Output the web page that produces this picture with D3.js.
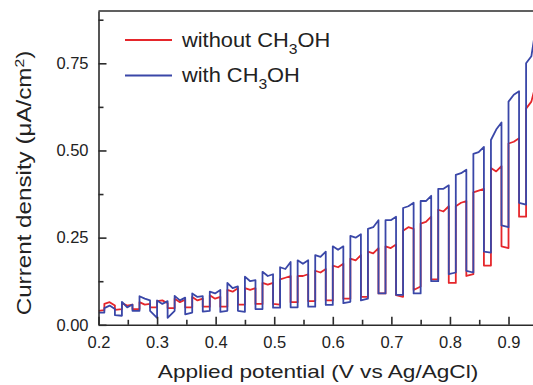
<!DOCTYPE html>
<html>
<head>
<meta charset="utf-8">
<script src="https://cdn.jsdelivr.net/npm/d3@7"></script>
<style>
  body { margin: 0; background: #fff; }
  svg { display: block; font-family: "Liberation Sans", Arial, sans-serif; }
  .axis path, .axis line { stroke: #2b2b2b; stroke-width: 1.6; }
  .axis text { font-size: 16.5px; fill: #222; }
</style>
</head>
<body>
<div id="chart"></div>
<script>
// chopped-light sweep: potentials where the lamp goes on / off (V vs Ag/AgCl)
const lightOn  = [0.21, 0.24, 0.27, 0.30, 0.33, 0.36, 0.39, 0.42, 0.45, 0.48, 0.51, 0.54, 0.57,
                  0.60, 0.63, 0.66, 0.69, 0.72, 0.75, 0.78, 0.81, 0.84, 0.87, 0.90, 0.93];
const lightMid = [0.219, 0.249, 0.279, 0.309, 0.339, 0.369, 0.399, 0.429, 0.459, 0.489, 0.519, 0.549, 0.579,
                  0.609, 0.639, 0.669, 0.699, 0.729, 0.759, 0.789, 0.819, 0.849, 0.879, 0.909, 0.939];
const lightOff = [0.228, 0.258, 0.288, 0.318, 0.348, 0.378, 0.408, 0.438, 0.468, 0.498, 0.528, 0.558, 0.588,
                  0.618, 0.648, 0.678, 0.708, 0.738, 0.768, 0.798, 0.828, 0.858, 0.888, 0.918, 0.945];

// without CH3OH (uA/cm2)
const redStart      = 0.04;
const redDarkEnd    = [0.042, 0.045, 0.045, 0.05, 0.048, 0.05, 0.052, 0.052, 0.058, 0.06, 0.058, 0.065, 0.068,
                       0.07, 0.075, 0.08, 0.09, 0.08, 0.11, 0.13, 0.12, 0.145, 0.17, 0.22, 0.31];
const redLightStart = [0.06, 0.062, 0.065, 0.068, 0.075, 0.08, 0.085, 0.1, 0.105, 0.12, 0.13, 0.14, 0.155,
                       0.17, 0.19, 0.21, 0.225, 0.27, 0.29, 0.33, 0.34, 0.38, 0.45, 0.52, 0.62];
const redLightMid   = [0.065, 0.055, 0.058, 0.07, 0.065, 0.07, 0.075, 0.095, 0.1, 0.115, 0.135, 0.14, 0.15,
                       0.165, 0.185, 0.205, 0.22, 0.28, 0.295, 0.325, 0.35, 0.385, 0.44, 0.525, 0.64];
const redLightEnd   = [0.055, 0.058, 0.06, 0.062, 0.072, 0.075, 0.08, 0.105, 0.105, 0.12, 0.14, 0.145, 0.16,
                       0.175, 0.2, 0.22, 0.23, 0.275, 0.31, 0.34, 0.355, 0.39, 0.455, 0.535, 0.68];
const redDarkMin    = [0.043, 0.045, 0.05, 0.048, 0.05, 0.052, 0.052, 0.058, 0.06, 0.06, 0.065, 0.068, 0.07,
                       0.075, 0.08, 0.09, 0.085, 0.1, 0.13, 0.12, 0.14, 0.17, 0.225, 0.31, null];

// with CH3OH (uA/cm2)
const blueStart      = 0.035;
const blueDarkEnd    = [0.035, 0.026, 0.04, 0.02, 0.04, 0.035, 0.04, 0.04, 0.037, 0.045, 0.049, 0.05, 0.052,
                        0.057, 0.066, 0.075, 0.09, 0.086, 0.09, 0.125, 0.15, 0.15, 0.207, 0.28, 0.345];
const blueLightStart = [0.048, 0.066, 0.082, 0.07, 0.083, 0.09, 0.095, 0.12, 0.138, 0.152, 0.165, 0.185, 0.2,
                        0.225, 0.255, 0.275, 0.3, 0.335, 0.355, 0.39, 0.43, 0.49, 0.53, 0.64, 0.75];
const blueLightMid   = [0.055, 0.05, 0.075, 0.06, 0.07, 0.08, 0.09, 0.105, 0.125, 0.14, 0.16, 0.175, 0.195,
                        0.215, 0.25, 0.28, 0.3, 0.34, 0.355, 0.39, 0.435, 0.495, 0.56, 0.66, 0.77];
const blueLightEnd   = [0.045, 0.058, 0.07, 0.068, 0.078, 0.082, 0.1, 0.11, 0.128, 0.145, 0.18, 0.185, 0.21,
                        0.225, 0.26, 0.3, 0.31, 0.35, 0.37, 0.4, 0.445, 0.51, 0.58, 0.67, 0.835];
const blueDarkMin    = [0.028, 0.04, 0.04, 0.02, 0.03, 0.038, 0.037, 0.04, 0.045, 0.049, 0.05, 0.052, 0.057,
                        0.062, 0.07, 0.09, 0.086, 0.09, 0.125, 0.145, 0.155, 0.21, 0.285, 0.35, null];

const xMajor = [0.2, 0.3, 0.4, 0.5, 0.6, 0.7, 0.8, 0.9];
const xMinor = [0.25, 0.35, 0.45, 0.55, 0.65, 0.75, 0.85];
const yMajor = [0, 0.25, 0.5, 0.75];
const yMinor = [0.125, 0.375, 0.625, 0.875];

const series = [
  { name: "without", color: "#e5262b", start: redStart, dEnd: redDarkEnd, lStart: redLightStart,
    lMid: redLightMid, lEnd: redLightEnd, dMin: redDarkMin },
  { name: "with", color: "#3a47a8", start: blueStart, dEnd: blueDarkEnd, lStart: blueLightStart,
    lMid: blueLightMid, lEnd: blueLightEnd, dMin: blueDarkMin }
];

// walk the sweep cycle by cycle: dark -> light on -> plateau -> light off
function sweep(s) {
  let pts = [[0.2, s.start]];
  lightOn.forEach((v, i) => {
    pts.push([v, s.dEnd[i]], [v, s.lStart[i]], [lightMid[i], s.lMid[i]], [lightOff[i], s.lEnd[i]]);
    if (s.dMin[i] != null) pts.push([lightOff[i], s.dMin[i]]);
  });
  return pts;
}

let W = 533, H = 385,
  margin = { top: 11, left: 98.5 },
  width = 439.3,
  height = 313.8;

let svg = d3.select("#chart").append("svg")
  .attr("width", W)
  .attr("height", H);

let x = d3.scaleLinear().domain([0.2, 0.95]).range([0, width]);
let y = d3.scaleLinear().domain([0, 0.9]).range([height, 0]);

let g = svg.append("g")
  .attr("transform", "translate(" + margin.left + "," + margin.top + ")");

g.append("clipPath").attr("id", "plot")
  .append("rect").attr("x", 0).attr("y", 0).attr("width", width).attr("height", height);

let line = d3.line().x(d => x(d[0])).y(d => y(d[1]));

g.append("g").attr("clip-path", "url(#plot)")
  .selectAll("path")
  .data(series)
  .join("path")
  .attr("d", d => line(sweep(d)))
  .attr("fill", "none")
  .attr("stroke", d => d.color)
  .attr("stroke-width", 1.8)
  .attr("stroke-linejoin", "round");

// axes, ticks pointing in
g.append("g").attr("class", "axis")
  .attr("transform", "translate(0," + height + ")")
  .call(d3.axisBottom(x).tickValues(xMajor).tickFormat(d3.format(".1f"))
    .tickSizeInner(-8).tickSizeOuter(0).tickPadding(11.3));

g.append("g").attr("class", "axis")
  .attr("transform", "translate(0," + height + ")")
  .call(d3.axisBottom(x).tickValues(xMinor).tickFormat("").tickSizeInner(-5).tickSizeOuter(0))
  .select(".domain").remove();

g.append("g").attr("class", "axis")
  .call(d3.axisLeft(y).tickValues(yMajor).tickFormat(d3.format(".2f"))
    .tickSizeInner(-8).tickSizeOuter(0).tickPadding(10));

g.append("g").attr("class", "axis")
  .call(d3.axisLeft(y).tickValues(yMinor).tickFormat("").tickSizeInner(-5).tickSizeOuter(0))
  .select(".domain").remove();

g.append("line")
  .attr("x1", 0).attr("x2", width + 5)
  .attr("y1", 0).attr("y2", 0)
  .attr("stroke", "#2b2b2b").attr("stroke-width", 1.6);

// axis titles
svg.append("text")
  .attr("transform", "translate(318,378) scale(1.19,1)")
  .attr("text-anchor", "middle")
  .attr("font-size", 19)
  .attr("fill", "#222")
  .text("Applied potential (V vs Ag/AgCl)");

let yTitle = svg.append("text")
  .attr("transform", "translate(31,183) rotate(-90) scale(1.21,1)")
  .attr("text-anchor", "middle")
  .attr("font-size", 20)
  .attr("fill", "#222");
yTitle.append("tspan").text("Current density (\u03bcA/cm");
yTitle.append("tspan").attr("font-size", 13).attr("dy", -7).text("2");
yTitle.append("tspan").attr("dy", 7).text(")");

// legend
let legend = svg.append("g");
let items = legend.selectAll("g")
  .data(series)
  .join("g")
  .attr("transform", (d, i) => "translate(125," + (40 + i * 35.5) + ")");

items.append("line")
  .attr("x1", 0).attr("x2", 47)
  .attr("stroke", d => d.color).attr("stroke-width", 1.8);

let label = items.append("text")
  .attr("transform", "translate(57,6.5) scale(1.12,1)")
  .attr("font-size", 19.5)
  .attr("fill", "#222");
label.append("tspan").text(d => d.name + " CH");
label.append("tspan").attr("font-size", 14).attr("dy", 7).text("3");
label.append("tspan").attr("dy", -7).text("OH");
</script>
</body>
</html>
